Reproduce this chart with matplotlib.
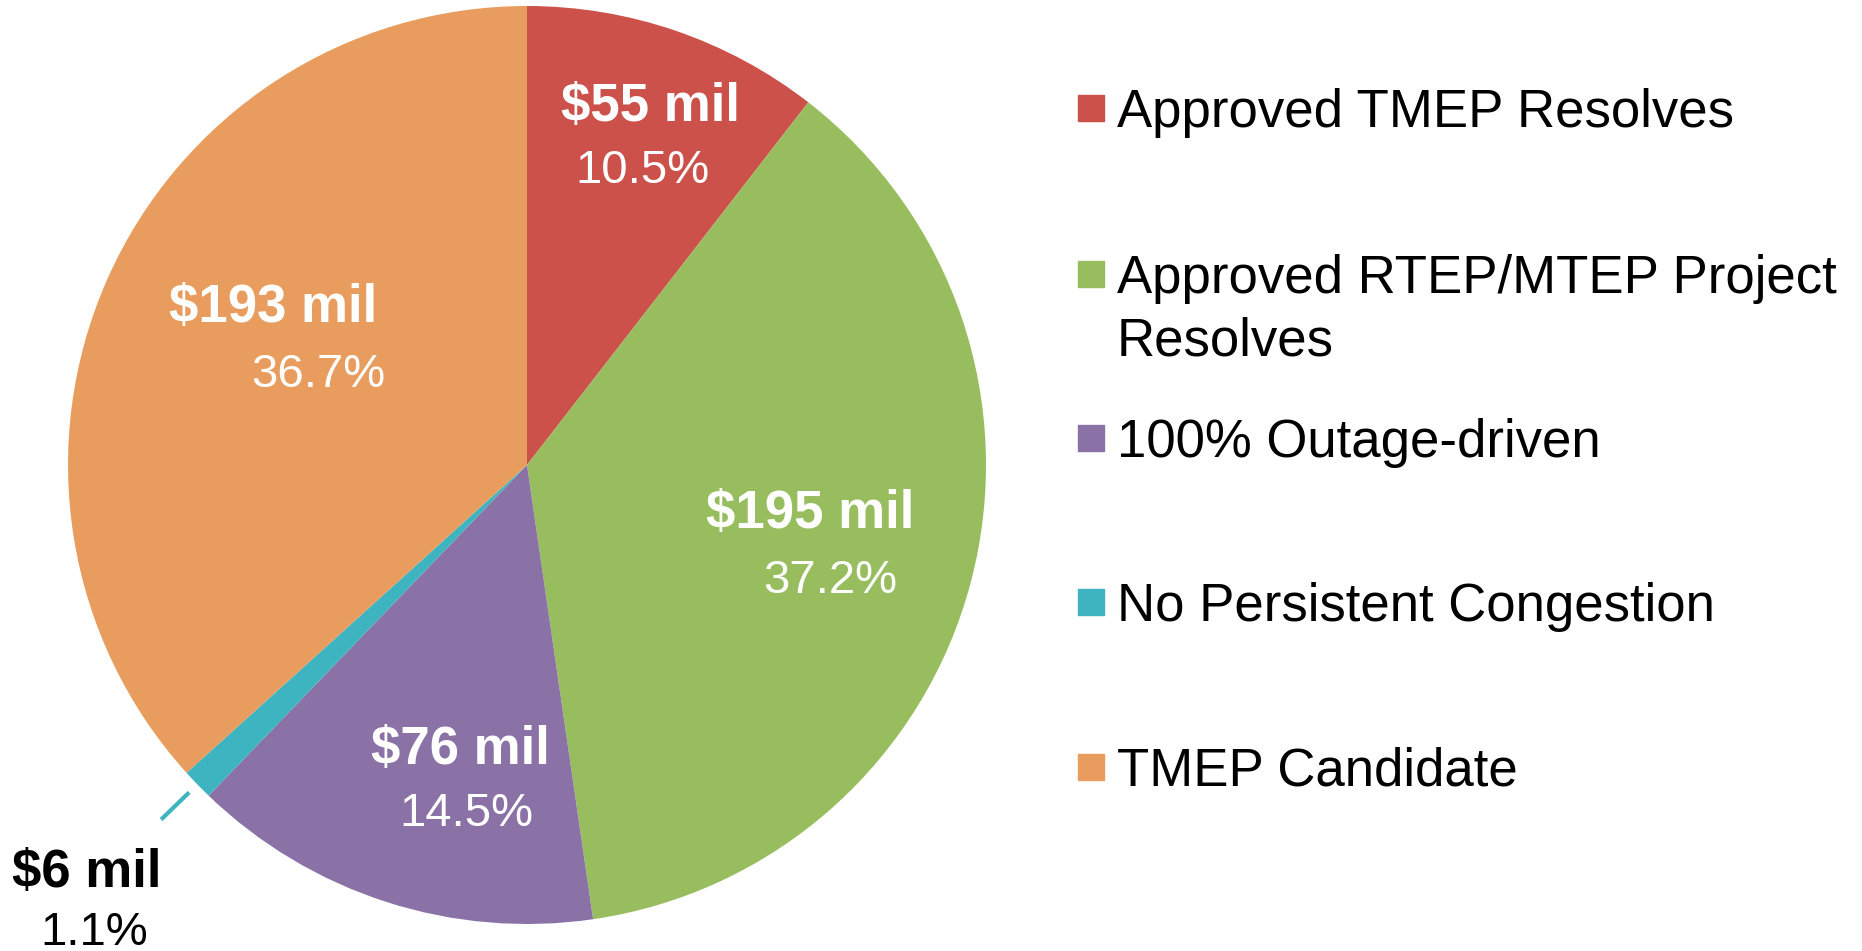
import numpy as np
import matplotlib
matplotlib.use('Agg')
import matplotlib.pyplot as plt
from matplotlib.patches import Rectangle

plt.rcParams['font.family'] = ['Liberation Sans', 'DejaVu Sans']

#%% Data
categories = ['Approved TMEP Resolves',
              'Approved RTEP/MTEP Project\nResolves',
              '100% Outage-driven',
              'No Persistent Congestion',
              'TMEP Candidate']
dollars = ['$55 mil', '$195 mil', '$76 mil', '$6 mil', '$193 mil']
pct = [10.5, 37.2, 14.5, 1.1, 36.7]
colors = ['#CB514A', '#97BD5F', '#8A72A6', '#3DB4C0', '#E89D5F']

#%% Figure
W, H = 1862, 951
fig = plt.figure(figsize=(W / 100, H / 100), dpi=100)

# pie axes: centre (527, 465) px, radius 459 px
cx, cy, R = 527, 465, 459
ax = fig.add_axes([(cx - R) / W, (H - cy - R) / H, 2 * R / W, 2 * R / H])
wedges, _ = ax.pie(pct, colors=colors, startangle=90, counterclock=False,
                   radius=1, wedgeprops=dict(linewidth=0))
ax.set_xlim(-1, 1)
ax.set_ylim(-1, 1)
ax.set_aspect('equal')
ax.axis('off')

# label positions (fraction of radius), matched to the original
bold_pos = [(0.270, 0.781), (0.617, -0.106), (-0.146, -0.620), (-0.959, -0.888), (-0.553, 0.341)]
pct_pos = [(0.251, 0.641), (0.660, -0.252), (-0.133, -0.760), (-0.943, -1.019), (-0.455, 0.195)]
for i in range(len(pct)):
    col = 'black' if i == 3 else 'white'
    ax.text(*bold_pos[i], dollars[i], ha='center', va='center', fontsize=38,
            fontweight='bold', color=col, clip_on=False)
    ax.text(*pct_pos[i], '%.1f%%' % pct[i], ha='center', va='center', fontsize=34,
            color=col, clip_on=False)

# leader line for the small slice
w = wedges[3]
mid = np.deg2rad((w.theta1 + w.theta2) / 2)
ax.plot([1.025 * np.cos(mid), 1.11 * np.cos(mid)],
        [1.025 * np.sin(mid), 1.11 * np.sin(mid)],
        color=colors[3], lw=3, solid_capstyle='butt', clip_on=False)

#%% Legend drawn by hand so the two-line entry keeps its square at the top
row_y = [108, 274, 438, 602, 767]   # cap centres in px
sq = 26
for i, lab in enumerate(categories):
    yc = row_y[i]
    fig.patches.append(Rectangle((1078 / W, 1 - (yc + sq / 2) / H), sq / W, sq / H,
                                 transform=fig.transFigure, color=colors[i]))
    for j, line in enumerate(lab.split('\n')):
        base = yc + 19 + j * 62
        fig.text(1117 / W, 1 - base / H, line, ha='left', va='baseline',
                 fontsize=38, color='black')

fig.savefig('out.png', dpi=100, facecolor='white')
